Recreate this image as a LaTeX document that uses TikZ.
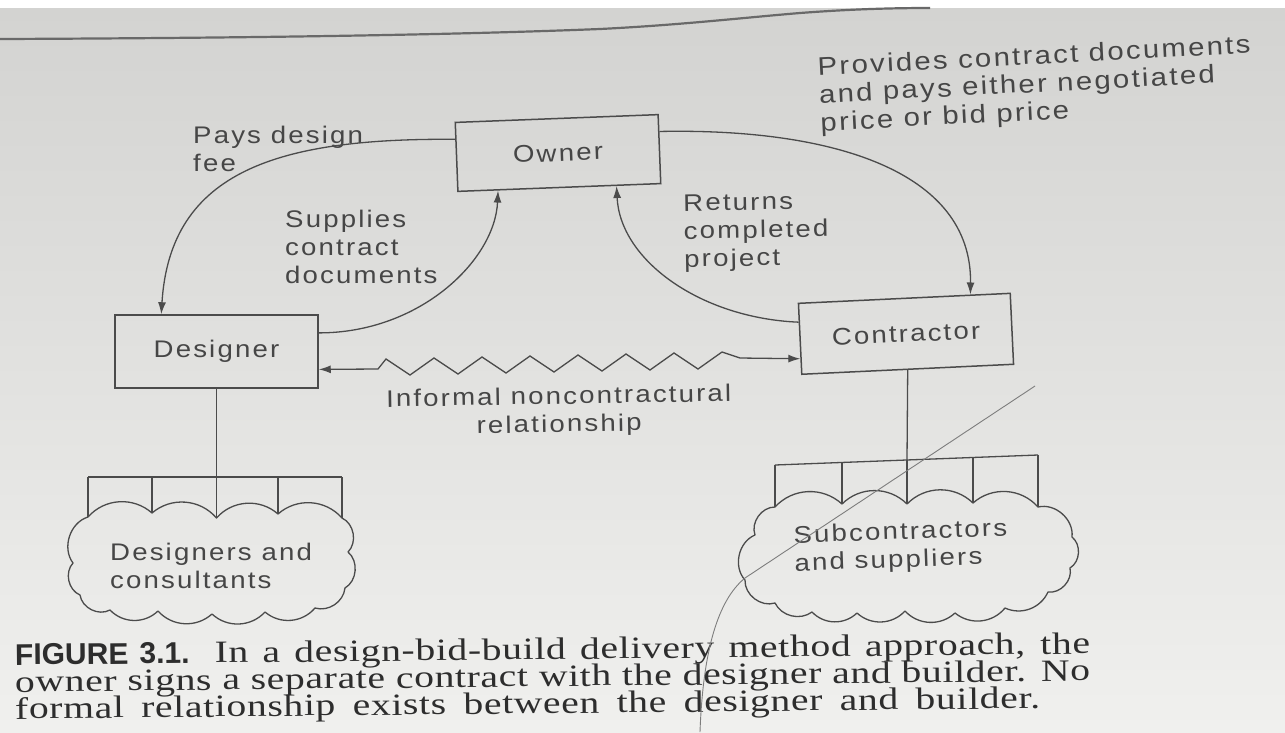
\documentclass[tikz,border=0pt]{standalone}
\usepackage{fontspec}
\setmainfont{Liberation Serif}
\newfontfamily\labfont[FakeStretch=1.15,LetterSpace=9]{Liberation Sans}
\newfontfamily\capsansfont{Liberation Sans}
\newfontfamily\capseriffont[FakeStretch=1.28,LetterSpace=2]{Liberation Serif}
\usetikzlibrary{arrows.meta,calc}
\definecolor{paperA}{RGB}{211,211,209}
\definecolor{paperM}{RGB}{225,225,223}
\definecolor{paperB}{RGB}{240,240,238}
\definecolor{ink}{RGB}{75,75,75}
\definecolor{txt}{RGB}{70,70,70}
\definecolor{captxt}{RGB}{45,45,45}
\definecolor{edgecol}{RGB}{105,105,105}
\definecolor{haircol}{RGB}{125,125,125}
\AtBeginDocument{\lineskiplimit=-100pt\relax}
\begin{document}
\begin{tikzpicture}[x=1pt,y=-1pt,
  lab/.style={font=\labfont\fontsize{24}{28}\selectfont, text=txt, inner sep=0pt, align=left, anchor=north west},
  box/.style={draw=ink, line width=1.5pt, inner sep=0pt, font=\labfont\fontsize{24}{28}\selectfont, text=txt},
  conn/.style={draw=ink, line width=1.3pt},
  arr/.style={conn, -{Latex[length=12pt,width=8pt]}},
  dbl/.style={conn, {Latex[length=12pt,width=8pt]}-{Latex[length=12pt,width=8pt]}},
  puff/.style={draw=ink, line width=1.3pt, line join=round},
  hairline/.style={draw=haircol, line width=0.9pt},
  capline/.style={anchor=base west, inner sep=0pt, rotate=0.6, text=captxt,
    font=\capseriffont\fontsize{31}{27}\selectfont},
]
\useasboundingbox (0,0) rectangle (1285,732);
\fill[white] (0,0) rectangle (1285,732);
\shade[top color=paperA, middle color=paperM, bottom color=paperB] (0,8) rectangle (1285,732);
% page edge
\draw[line width=2.2pt, edgecol] (0,39) .. controls (250,38) and (450,35) .. (600,29)
  .. controls (680,25) and (740,18) .. (800,13) .. controls (840,10) and (880,8) .. (930,8);

% boxes
\node[box, minimum width=203pt, minimum height=69pt, rotate=2.2] (owner) at (558,153) {Owner};
\node[box, minimum width=203pt, minimum height=73pt] (designer) at (216.5,351.5) {Designer};
\node[box, minimum width=212pt, minimum height=71pt, rotate=2.7] (contractor) at (906,333.8) {Contractor};

% labels
\node[lab] (payfee) at (193,125.5) {Pays design\\fee};
\node[lab] (supplies) at (285,209.5) {Supplies\\contract\\documents};
\node[lab, rotate=1] (returns) at (683,194.5) {Returns\\completed\\project};
\node[lab, rotate=2.9, font=\labfont\fontsize{25.5}{28}\selectfont] (provides) at (817,56.5) {Provides contract documents\\and pays either negotiated\\price or bid price};
\node[lab, align=center, anchor=north, rotate=1] (informal) at (558.5,386.5) {Informal noncontractural\\relationship};

% anchor points
\coordinate (o1) at ($(owner.north west)!0.25!(owner.south west)$);
\coordinate (o2) at ($(owner.south west)!0.2!(owner.south east)$);
\coordinate (o3) at ($(owner.north east)!0.25!(owner.south east)$);
\coordinate (o4) at ($(owner.south west)!0.78!(owner.south east)$);
\coordinate (d1) at ($(designer.north west)!0.23!(designer.north east)$);
\coordinate (d2) at ($(designer.north east)!0.25!(designer.south east)$);
\coordinate (zl) at ($(designer.north east)!0.74!(designer.south east)$);
\coordinate (c1) at ($(contractor.north west)!0.81!(contractor.north east)$);
\coordinate (c2) at ($(contractor.north west)!0.27!(contractor.south west)$);
\coordinate (zr) at ($(contractor.north west)!0.775!(contractor.south west)$);

% connectors
\draw[arr] (o1) .. controls (280,138) and (170,170) .. (d1);
\draw[arr] (d2) .. controls (420,333) and (495,260) .. (o2);
\draw[arr] (o3) .. controls (830,128) and (972,170) .. (c1);
\draw[arr] (c2) .. controls (700,318) and (620,260) .. (o4);
\draw[dbl] (zl) -- (378,369) -- (386,359) -- (410,375) -- (434,358) -- (458,374) -- (482,357)
  -- (506,373) -- (530,356) -- (554,372) -- (578,355) -- (602,371) -- (626,354) -- (650,370)
  -- (674,353) -- (698,369) -- (722,352) -- (740,358) -- (zr);

% designer tree
\coordinate (db) at (216.5,477);
\draw[conn] (designer.south) -- (db);
\coordinate (dbl1) at (88,477);
\coordinate (dbr1) at (342,477);
\draw[conn] (dbl1) -- (dbr1);
\foreach \x/\y in {88/517,152/513,216.5/518,278/514,342/518}
  \draw[conn] (\x,477) -- (\x,\y);
\draw[puff] (88,517) to[bend left=45] (152,513) to[bend left=45] (216.5,518) to[bend left=45] (278,514)
  to[bend left=45] (342,518) to[bend left=55] (348,552) to[bend left=55] (345,588)
  to[bend left=50] (315,608) to[bend left=45] (265,612) to[bend left=45] (212,614)
  to[bend left=45] (158,611) to[bend left=45] (110,610) to[bend left=55] (80,595)
  to[bend left=55] (73,563) to[bend left=55] (88,517) -- cycle;
\node[lab] (dcons) at (110,542.5) {Designers and\\consultants};

% contractor tree
\coordinate (cb) at (907,460);
\draw[conn] (contractor.south) -- (cb);
\coordinate (cbl) at (775,465);
\coordinate (cbr) at (1038,455);
\draw[conn] (cbl) -- (cbr);
\foreach \x/\ya/\yb in {775/465/507,842/462.5/504,907/460/504,973/457.5/503,1038/455/507}
  \draw[conn] (\x,\ya) -- (\x,\yb);
\draw[puff] (775,507) to[bend left=45] (842,504) to[bend left=45] (907,504) to[bend left=45] (973,503)
  to[bend left=45] (1038,507) to[bend left=55] (1072,537) to[bend left=55] (1070,568)
  to[bend left=55] (1048,592) to[bend left=45] (1005,608) to[bend left=45] (955,613)
  to[bend left=45] (905,611) to[bend left=45] (857,613) to[bend left=45] (812,612)
  to[bend left=50] (775,603) to[bend left=55] (745,580) to[bend left=55] (755,535)
  to[bend left=55] (775,507) -- cycle;
\node[lab, rotate=2] (subs) at (793,525.5) {Subcontractors\\and suppliers};

% caption
\node[capline] (cap1) at (15,665)
  {\makebox[1075pt][s]{{\capsansfont\bfseries\fontsize{30}{27}\selectfont FIGURE 3.1.} In a design-bid-build delivery method approach, the}};
\node[capline] (cap2) at (15,692)
  {\makebox[1075pt][s]{owner signs a separate contract with the designer and builder. No}};
\node[capline] (cap3) at (15,719)
  {\makebox[1025pt][s]{formal relationship exists between the designer and builder.}};

% stray hair across the page
\draw[hairline] (1035,386) -- (745,578) .. controls (718,600) and (703,650) .. (700,732);
\end{tikzpicture}
\end{document}
